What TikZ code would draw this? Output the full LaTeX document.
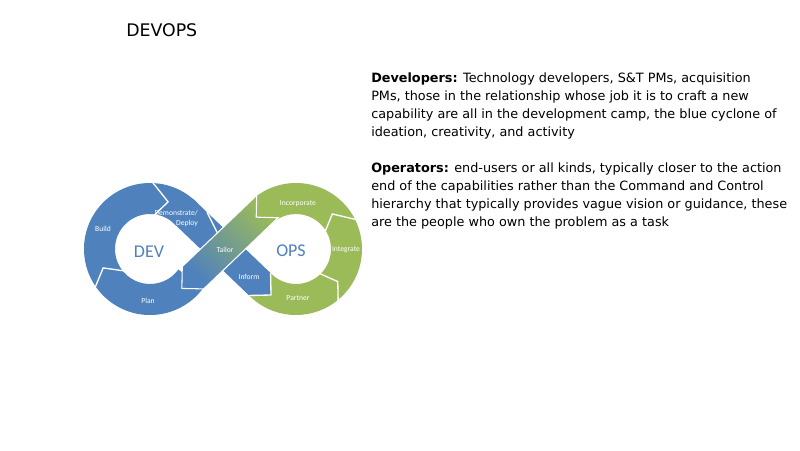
\documentclass[tikz,border=0pt]{standalone}
\usepackage{fontspec}
\setmainfont{DejaVu Sans}
\newfontfamily\carlito{Carlito}
\usetikzlibrary{calc}
\definecolor{blueC}{RGB}{79,129,189}
\definecolor{greenC}{RGB}{155,187,89}
\begin{document}
\begin{tikzpicture}[x=0.75pt,y=-0.75pt,
  lbl/.style={font=\carlito\fontsize{5.7pt}{7.5pt}\selectfont, text=white, inner sep=0pt},
  big/.style={font=\carlito\fontsize{13.5pt}{15pt}\selectfont, text=blueC, inner sep=0pt},
  body/.style={font=\fontsize{9.6pt}{13.5pt}\selectfont, anchor=base west, inner sep=0pt},
  sep/.style={draw=white, line width=1pt, line join=miter}]
\fill[white] (0,0) rectangle (800,450);
\useasboundingbox (0,0) rectangle (800,450);
\coordinate (C1) at (150,249);
\coordinate (C2) at (296,249);
% DEV ring
\fill[blueC] ($(C1)+(36:66)$) arc[start angle=36, end angle=318, radius=66]
  -- ($(C1)+(318:35)$) arc[start angle=318, end angle=36, radius=35] -- cycle;
% OPS ring
\fill[greenC] ($(C2)+(-145:66)$) arc[start angle=-145, end angle=140, radius=66]
  -- ($(C2)+(140:35)$) arc[start angle=140, end angle=-145, radius=35] -- cycle;
% blue band (Demonstrate end + Inform)
\fill[blueC] (193.28,199.07) -- (270.55,273.09) -- (271.02,295.00) -- (249.11,295.47) -- (171.84,221.45) -- cycle;
% separators
\draw[sep] ($(C1)+(272:67)$) -- ($(C1)+(291:50.5)$) -- ($(C1)+(277:34)$);
\draw[sep] ($(C1)+(145:67)$) -- ($(C1)+(158:50.5)$) -- ($(C1)+(140:34)$);
\draw[sep] ($(C2)+(-26:67)$) -- ($(C2)+(-44:50.5)$) -- ($(C2)+(-31:34)$);
\draw[sep] ($(C2)+(51:67)$) -- ($(C2)+(38:53)$) -- ($(C2)+(46:34)$);
\draw[sep] (207,212.2) -- (220,238);
\draw[sep] (270.55,273.09) -- (271.02,295.00) -- (249.11,295.47);
% Tailor band
\path[draw=white, line width=0.8pt, bottom color=blueC, top color=greenC, shading angle=-45]
  (256.69,195.26) -- (182.31,266.52) -- (181.84,288.43) -- (203.75,288.9)
  -- (278.13,217.64) -- (256.22,217.18) -- cycle;
% labels
\node[lbl] (build) at (103,229) {Build};
\node[lbl, align=right, anchor=east] (demo) at (198,218) {Demonstrate/\\Deploy};
\node[lbl] (plan) at (148,301) {Plan};
\node[lbl] (tailor) at (225,250) {Tailor};
\node[lbl] (inform) at (249,277) {Inform};
\node[lbl] (incorp) at (298,204) {Incorporate};
\node[lbl] (integ) at (346,250) {Integrate};
\node[lbl] (partner) at (298,298) {Partner};
\node[big] (dev) at (149,252) {DEV};
\node[big] (ops) at (291,251) {OPS};
% title
\node[font=\fontsize{13pt}{15pt}\selectfont, anchor=base west, inner sep=0pt] (title) at (126,36.7) {DEVOPS};
% text
\node[body] (l1) at (371,82.3) {\textbf{Developers:} Technology developers, S\&T PMs, acquisition};
\node[body] (l2) at (371,100.3) {PMs, those in the relationship whose job it is to craft a new};
\node[body] (l3) at (371,118.3) {capability are all in the development camp, the blue cyclone of};
\node[body] (l4) at (371,136.3) {ideation, creativity, and activity};
\node[body] (l5) at (371,172.3) {\textbf{Operators:} end-users or all kinds, typically closer to the action};
\node[body] (l6) at (371,190.3) {end of the capabilities rather than the Command and Control};
\node[body] (l7) at (371,208.3) {hierarchy that typically provides vague vision or guidance, these};
\node[body] (l8) at (371,226.3) {are the people who own the problem as a task};
\end{tikzpicture}
\end{document}
